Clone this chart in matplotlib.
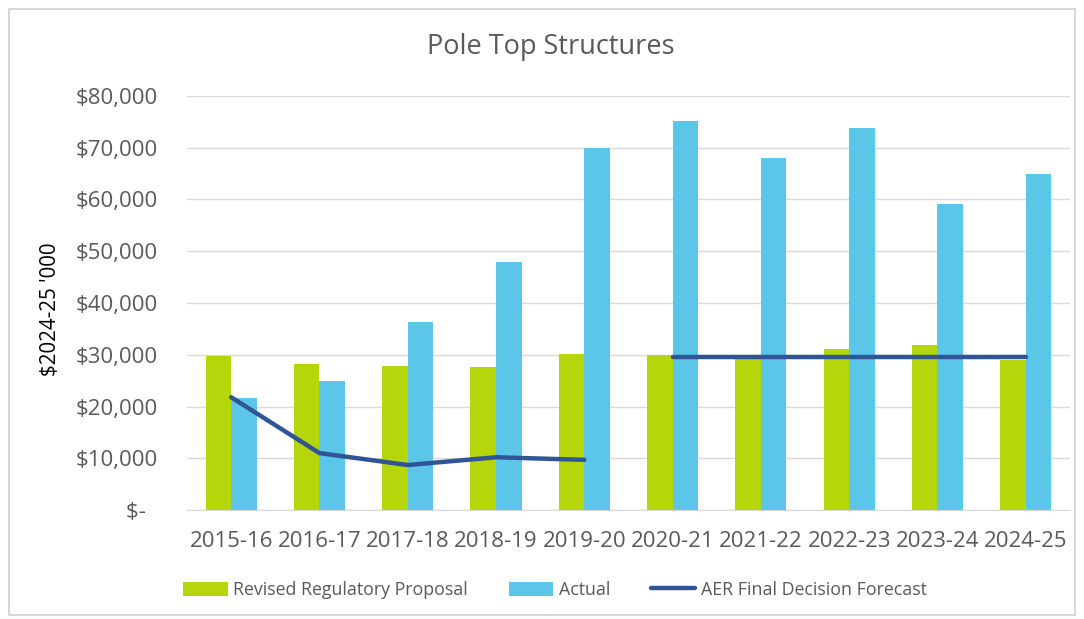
import numpy as np
import matplotlib
matplotlib.use("Agg")
from matplotlib import pyplot as plt
from matplotlib.patches import Rectangle
from matplotlib.ticker import FuncFormatter

# Data ($2024-25 '000)
years    = ["2015-16", "2016-17", "2017-18", "2018-19", "2019-20",
            "2020-21", "2021-22", "2022-23", "2023-24", "2024-25"]
proposal = [29800, 28300, 27800, 27600, 30100, 29900, 29400, 31200, 31900, 29000]
actual   = [21600, 24900, 36300, 47900, 70000, 75200, 68100, 73900, 59200, 64900]
# AER forecast: two separate periods (gap between 2019-20 and 2020-21)
aer_first  = [21800, 11000, 8700, 10200, 9700]
aer_second = [29600, 29600, 29600, 29600, 29600]

GREEN = "#B7D50B"
BLUE  = "#5BC6E8"
NAVY  = "#2F5597"
GREY  = "#595959"

plt.rcParams["font.family"] = ["Open Sans", "DejaVu Sans"]

fig = plt.figure(figsize=(10.84, 6.19), dpi=100)
ax = fig.add_axes([0.1725, 0.176, 0.8145, 0.669])

x = np.arange(len(years))
w = 0.29
b1 = ax.bar(x - w/2, proposal, w, color=GREEN, label="Revised Regulatory Proposal", zorder=2)
b2 = ax.bar(x + w/2, actual, w, color=BLUE, label="Actual", zorder=2)
l1, = ax.plot(x[:5], aer_first, color=NAVY, lw=3.2, solid_capstyle="round",
              label="AER Final Decision Forecast", zorder=3)
ax.plot(x[5:], aer_second, color=NAVY, lw=3.2, solid_capstyle="round", zorder=3)

ax.set_xlim(-0.5, len(years) - 0.5)
ax.set_ylim(0, 80000)
ax.set_yticks(np.arange(0, 80001, 10000))
ax.yaxis.set_major_formatter(FuncFormatter(
    lambda v, p: "$-  " if v == 0 else "${:,.0f}".format(v)))
ax.set_xticks(x)
ax.set_xticklabels(years)
ax.grid(axis="y", color="#D9D9D9", lw=1, zorder=0)
for s in ["top", "right", "left"]:
    ax.spines[s].set_visible(False)
ax.spines["bottom"].set_color("#D9D9D9")
ax.tick_params(axis="both", length=0, colors=GREY, labelsize=16)
ax.tick_params(axis="y", pad=21)
ax.tick_params(axis="x", pad=15)

fig.text(0.047, 0.50, "$2024-25 '000", rotation=90, ha="center", va="center",
         fontsize=14.8, color="black")
fig.text(0.508, 0.924, "Pole Top Structures", ha="center", va="center",
         fontsize=19.5, color=GREY)

leg = fig.legend([b1, b2, l1],
                 ["Revised Regulatory Proposal", "Actual", "AER Final Decision Forecast"],
                 loc="center", bbox_to_anchor=(0.512, 0.047), ncol=3,
                 frameon=False, fontsize=12.8, handlelength=2.5,
                 handleheight=0.8, handletextpad=0.3, columnspacing=2.3)
for t in leg.get_texts():
    t.set_color(GREY)

# light frame around the chart
fig.patches.append(Rectangle((0.008, 0.006), 0.984, 0.979, transform=fig.transFigure,
                             fill=False, edgecolor="#D0D0D0", lw=1.2))

fig.savefig("out.png", dpi=100)
